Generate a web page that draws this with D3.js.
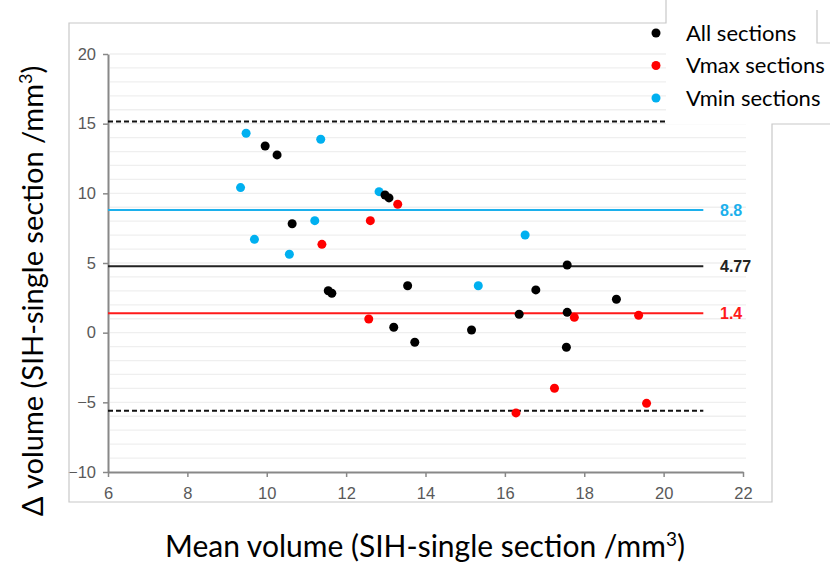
<!DOCTYPE html>
<html>
<head>
<meta charset="utf-8">
<script src="https://cdn.jsdelivr.net/npm/d3@7"></script>
<style>
  body { margin: 0; background: #fff; }
  text { font-family: "Liberation Sans", Arial, sans-serif; }
  .title { font-family: Lato, "Open Sans", sans-serif; fill: #000; }
</style>
</head>
<body>
<svg id="svg"></svg>
<script>

const width = 830;
const height = 566;

// data: [mean volume, delta volume]
const allSections = [
	[9.96, 13.4], [10.26, 12.76], [10.64, 7.82], [12.98, 9.88], [13.08, 9.67],
	[11.55, 3.01], [11.64, 2.83], [13.55, 3.37], [13.2, 0.39], [13.73, -0.69],
	[15.16, 0.19], [16.36, 1.32], [16.78, 3.07], [17.57, 4.86], [17.57, 1.46],
	[18.81, 2.4], [17.55, -1.05]
];
const vmaxSections = [
	[13.3, 9.22], [12.61, 8.04], [11.39, 6.34], [12.57, 0.98], [17.75, 1.1],
	[19.37, 1.25], [17.25, -3.99], [19.57, -5.07], [16.28, -5.76]
];
const vminSections = [
	[9.48, 14.31], [9.34, 10.41], [11.36, 13.88], [12.83, 10.12], [11.21, 8.04],
	[9.69, 6.7], [10.57, 5.63], [16.51, 7.01], [15.33, 3.37]
];
const meanLines = [
	{ value: 8.8, label: "8.8", color: "#1cb0ec" },
	{ value: 4.77, label: "4.77", color: "#222" },
	{ value: 1.4, label: "1.4", color: "#ff1a1a" }
];
const limitLines = [15.15, -5.6];
const legendItems = [
	{ name: "All sections", color: "#000" },
	{ name: "Vmax sections", color: "#ff0000" },
	{ name: "Vmin sections", color: "#00b0f0" }
];
const xTicks = [6, 8, 10, 12, 14, 16, 18, 20, 22];
const yTicks = [-10, -5, 0, 5, 10, 15, 20];

const svg = d3.select("#svg")
			.attr("width", width)
			.attr("height", height);

const x = d3.scaleLinear().domain([6, 22]).range([108, 743]);
const y = d3.scaleLinear().domain([-10, 20]).range([472, 54]);

// light grid, one line per unit
svg.append("g")
	.selectAll("line")
	.data(d3.range(-9, 21))
	.enter().append("line")
	.attr("x1", 110).attr("x2", 746)
	.attr("y1", d => y(d)).attr("y2", d => y(d))
	.attr("stroke", "#efefef")
	.attr("stroke-width", 1.3);

// axes
const xAxis = svg.append("g")
	.attr("transform", `translate(0,${y(-10)})`)
	.call(d3.axisBottom(x).tickValues(xTicks).tickSize(5).tickSizeOuter(0).tickPadding(7));
const yAxis = svg.append("g")
	.attr("transform", `translate(${x(6)},0)`)
	.call(d3.axisLeft(y).tickValues(yTicks).tickSize(5).tickSizeOuter(0).tickPadding(7));

[xAxis, yAxis].forEach(function(a) {
	a.select(".domain").attr("stroke", "#888").attr("stroke-width", 2);
	a.selectAll(".tick line").attr("stroke", "#888").attr("stroke-width", 1.5);
	a.selectAll(".tick text")
		.attr("fill", "#595959")
		.style("font-size", "16.5px")
		.style("font-family", "Liberation Sans, Arial, sans-serif");
});
xAxis.selectAll(".tick text").attr("dy", "0.9em");

// limits of agreement
svg.append("g")
	.selectAll("line")
	.data(limitLines)
	.enter().append("line")
	.attr("x1", x(6)).attr("x2", x(21))
	.attr("y1", d => y(d)).attr("y2", d => y(d))
	.attr("stroke", "#111")
	.attr("stroke-width", 2)
	.attr("stroke-dasharray", "5,3");

// mean lines and their labels
const means = svg.append("g");
means.selectAll("line")
	.data(meanLines)
	.enter().append("line")
	.attr("x1", x(6)).attr("x2", x(21))
	.attr("y1", d => y(d.value)).attr("y2", d => y(d.value))
	.attr("stroke", d => d.color)
	.attr("stroke-width", 2);
means.selectAll("text")
	.data(meanLines)
	.enter().append("text")
	.attr("x", 720)
	.attr("y", d => y(d.value))
	.attr("dy", "0.36em")
	.attr("fill", d => d.color)
	.style("font-size", "16px")
	.style("font-weight", "bold")
	.text(d => d.label);

// points
const series = [
	{ data: vminSections, color: "#00b0f0" },
	{ data: allSections, color: "#000" },
	{ data: vmaxSections, color: "#ff0000" }
];
series.forEach(function(s) {
	svg.append("g")
		.selectAll("circle")
		.data(s.data)
		.enter().append("circle")
		.attr("cx", d => x(d[0]))
		.attr("cy", d => y(d[1]))
		.attr("r", 4.5)
		.attr("fill", s.color);
});

// legend box sitting over the top right corner
svg.append("rect")
	.attr("x", 666).attr("y", 0)
	.attr("width", 164).attr("height", 124)
	.attr("fill", "#fff");

const legend = svg.append("g")
	.selectAll("g")
	.data(legendItems)
	.enter().append("g")
	.attr("transform", (d, i) => `translate(0,${33 + i * 32.5})`);
legend.append("circle")
	.attr("cx", 656).attr("cy", 0).attr("r", 4.5)
	.attr("fill", d => d.color);
legend.append("text")
	.attr("class", "title")
	.attr("x", 686).attr("y", 0)
	.attr("dy", "0.35em")
	.style("font-size", "22px")
	.text(d => d.name);

// frame lines
svg.append("path")
	.attr("d", "M666,0V23H69V502H772V124H830M817,10V43H830")
	.attr("fill", "none")
	.attr("stroke", "#c8c8c8")
	.attr("stroke-width", 1.2);

// axis titles
const xTitle = svg.append("text")
	.attr("class", "title")
	.attr("x", 425).attr("y", 557)
	.attr("text-anchor", "middle")
	.style("font-size", "30px");
xTitle.append("tspan").text("Mean volume (SIH-single section /mm");
xTitle.append("tspan").attr("dy", -11).style("font-size", "19px").text("3");
xTitle.append("tspan").attr("dy", 11).text(")");

const yTitle = svg.append("text")
	.attr("class", "title")
	.attr("transform", "translate(43,291) rotate(-90)")
	.attr("text-anchor", "middle")
	.style("font-size", "29px");
yTitle.append("tspan").text("\u0394 volume (SIH-single section /mm");
yTitle.append("tspan").attr("dy", -11).style("font-size", "18px").text("3");
yTitle.append("tspan").attr("dy", 11).text(")");

</script>
</body>
</html>
